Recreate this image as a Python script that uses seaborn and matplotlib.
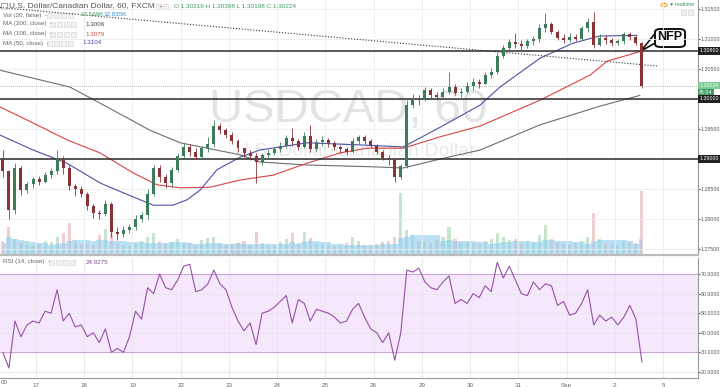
import matplotlib
matplotlib.use("Agg")
import matplotlib.pyplot as plt
import matplotlib.transforms as mtransforms
from matplotlib.patches import FancyBboxPatch, Polygon, Rectangle, Circle
import numpy as np
import pandas as pd
import seaborn as sns

# ---- data (USDCAD, resampled to 3h candles) ----
first_open = 1.2900
close = [1.2880, 1.2815, 1.2885, 1.2848, 1.2858, 1.2866, 1.2862, 1.2874, 1.2880, 1.2900,
         1.2885, 1.2855, 1.2850, 1.2842, 1.2822, 1.2810, 1.2808, 1.2825, 1.2778, 1.2775,
         1.2782, 1.2786, 1.2800, 1.2806, 1.2842, 1.2885, 1.2870, 1.2860, 1.2882, 1.2905,
         1.2920, 1.2912, 1.2903, 1.2918, 1.2925, 1.2955, 1.2948, 1.2940, 1.2930, 1.2918,
         1.2910, 1.2905, 1.2895, 1.2906, 1.2910, 1.2916, 1.2922, 1.2935, 1.2930, 1.2920,
         1.2938, 1.2916, 1.2928, 1.2932, 1.2926, 1.2920, 1.2916, 1.2912, 1.2930, 1.2936,
         1.2930, 1.2922, 1.2912, 1.2902, 1.2898, 1.2870, 1.2888, 1.2990, 1.3000, 1.2998,
         1.3015, 1.3006, 1.3004, 1.3012, 1.3020, 1.3010, 1.3012, 1.3022, 1.3028, 1.3025,
         1.3040, 1.3045, 1.3072, 1.3085, 1.3095, 1.3092, 1.3088, 1.3096, 1.3100, 1.3118,
         1.3125, 1.3112, 1.3102, 1.3098, 1.3104, 1.3100, 1.3118, 1.3128, 1.3090, 1.3102,
         1.3098, 1.3094, 1.3096, 1.3108, 1.3104, 1.3094, 1.3022]
high = [1.2915, 1.2882, 1.2893, 1.2888, 1.2862, 1.2870, 1.2872, 1.2878, 1.2885, 1.2915,
        1.2905, 1.2890, 1.2858, 1.2855, 1.2845, 1.2825, 1.2815, 1.2832, 1.2828, 1.2786,
        1.2788, 1.2792, 1.2806, 1.2812, 1.2850, 1.2890, 1.2890, 1.2875, 1.2887, 1.2910,
        1.2926, 1.2925, 1.2918, 1.2922, 1.2937, 1.2965, 1.2960, 1.2952, 1.2945, 1.2934,
        1.2918, 1.2915, 1.2910, 1.2910, 1.2916, 1.2920, 1.2928, 1.2940, 1.2952, 1.2934,
        1.2945, 1.2957, 1.2934, 1.2938, 1.2935, 1.2930, 1.2924, 1.2920, 1.2935, 1.2940,
        1.2940, 1.2934, 1.2925, 1.2915, 1.2906, 1.2902, 1.2892, 1.2998, 1.3008, 1.3006,
        1.3020, 1.3018, 1.3012, 1.3018, 1.3045, 1.3025, 1.3018, 1.3028, 1.3035, 1.3034,
        1.3045, 1.3052, 1.3078, 1.3090, 1.3100, 1.3110, 1.3098, 1.3100, 1.3105, 1.3125,
        1.3143, 1.3128, 1.3115, 1.3108, 1.3110, 1.3108, 1.3122, 1.3135, 1.3145, 1.3108,
        1.3106, 1.3102, 1.3100, 1.3112, 1.3112, 1.3106, 1.3095]
low = [1.2870, 1.2800, 1.2808, 1.2840, 1.2843, 1.2852, 1.2856, 1.2860, 1.2868, 1.2875,
       1.2875, 1.2848, 1.2838, 1.2836, 1.2815, 1.2802, 1.2800, 1.2805, 1.2770, 1.2765,
       1.2770, 1.2776, 1.2782, 1.2795, 1.2800, 1.2838, 1.2862, 1.2852, 1.2853, 1.2878,
       1.2900, 1.2905, 1.2900, 1.2900, 1.2912, 1.2920, 1.2942, 1.2935, 1.2925, 1.2912,
       1.2903, 1.2898, 1.2860, 1.2890, 1.2900, 1.2906, 1.2912, 1.2918, 1.2922, 1.2915,
       1.2918, 1.2912, 1.2912, 1.2922, 1.2920, 1.2915, 1.2910, 1.2906, 1.2910, 1.2925,
       1.2925, 1.2918, 1.2908, 1.2898, 1.2890, 1.2862, 1.2866, 1.2885, 1.2985, 1.2990,
       1.2996, 1.3002, 1.2998, 1.3000, 1.3008, 1.3006, 1.3004, 1.3010, 1.3015, 1.3018,
       1.3025, 1.3035, 1.3042, 1.3068, 1.3080, 1.3085, 1.3082, 1.3085, 1.3090, 1.3095,
       1.3112, 1.3108, 1.3098, 1.3093, 1.3095, 1.3096, 1.3098, 1.3112, 1.3085, 1.3088,
       1.3092, 1.3088, 1.3090, 1.3092, 1.3098, 1.3090, 1.3018]
volume_k = [14, 28, 16, 12, 10, 9, 11, 14, 13, 18,
            22, 32, 14, 11, 12, 10, 20, 26, 22, 12,
            10, 9, 11, 14, 18, 22, 14, 12, 13, 16,
            12, 12, 10, 15, 17, 18, 12, 10, 11, 12,
            14, 10, 23, 12, 10, 9, 13, 16, 22, 12,
            23, 17, 11, 10, 10, 9, 10, 12, 18, 14,
            10, 9, 11, 13, 14, 18, 62, 25, 20, 14,
            13, 12, 15, 18, 28, 16, 12, 13, 12, 11,
            14, 16, 22, 18, 15, 16, 12, 14, 13, 20,
            30, 16, 12, 11, 10, 12, 14, 18, 42, 16,
            12, 10, 10, 14, 13, 12, 64]
rsi = [30, 22, 46, 38, 44, 46, 45, 51, 50, 62,
       46, 50, 43, 44, 38, 40, 35, 42, 30, 32,
       30, 38, 51, 47, 63, 60, 70, 63, 62, 67,
       74, 75, 61, 62, 65, 72, 65, 62, 53, 46,
       41, 45, 34, 50, 51, 53, 56, 59, 45, 57,
       55, 46, 52, 51, 50, 48, 45, 46, 52, 55,
       48, 42, 40, 35, 40, 26, 40, 72, 71, 73,
       66, 63, 62, 66, 69, 55, 57, 55, 60, 58,
       64, 61, 76, 68, 74, 67, 60, 59, 66, 62,
       65, 64, 54, 56, 49, 50, 55, 62, 44, 49,
       46, 48, 44, 48, 54, 47, 25]

# moving averages (time in trading days from 16 Aug)
ma200_t = [0.25, 1.70, 2.33, 3.36, 3.99, 5.23, 5.64, 6.62, 7.99, 8.61, 9.38, 10.21, 11.45, 12.69, 13.52]
ma200_v = [1.3048, 1.3020, 1.2993, 1.2948, 1.2927, 1.2907, 1.2895, 1.2890, 1.2887, 1.2885,
           1.2900, 1.2915, 1.2957, 1.2988, 1.3006]
ma100_t = [0.25, 0.94, 1.64, 2.33, 3.01, 3.51, 3.99, 4.61, 5.23, 5.91, 6.62, 7.30, 7.86, 8.61,
           9.38, 10.21, 11.45, 12.49, 12.84, 13.52]
ma100_v = [1.2987, 1.2960, 1.2932, 1.2910, 1.2877, 1.2857, 1.2852, 1.2853, 1.2865, 1.2873,
           1.2893, 1.2910, 1.2918, 1.2918, 1.2937, 1.2955, 1.2998, 1.3040, 1.3063, 1.3079]
ma50_t = [0.25, 0.94, 1.64, 2.33, 2.53, 3.01, 3.43, 3.84, 4.13, 4.40, 4.75, 5.23, 5.64, 6.62,
          7.86, 8.61, 9.38, 10.21, 10.62, 11.45, 12.13, 12.69, 13.46]
ma50_v = [1.2940, 1.2915, 1.2893, 1.2860, 1.2853, 1.2837, 1.2823, 1.2823, 1.2832, 1.2848,
          1.2882, 1.2903, 1.2915, 1.2927, 1.2923, 1.2920, 1.2953, 1.2990, 1.3020, 1.3068,
          1.3093, 1.3105, 1.3106]

trend_t = [0.253, 13.875]
trend_v = [1.31525, 1.3055]
levels = [1.3080, 1.3000, 1.2900]
last_price = 1.30224

day_pos = list(range(1, 15))
day_labels = ["17", "18", "19", "22", "23", "24", "25", "26", "29", "30", "31", "Sep", "2", "5"]
price_ticks = [1.275, 1.280, 1.285, 1.290, 1.295, 1.300, 1.305, 1.310, 1.315]
rsi_ticks = [20, 30, 40, 50, 60, 70]

# ---- frame ----
opens = [first_open] + close[:-1]
df = pd.DataFrame({"t": [(k + 2.5) / 8 for k in range(len(close))],
                   "open": opens, "close": close, "high": high, "low": low,
                   "vol": volume_k, "rsi": rsi})
df["up"] = df["close"] >= df["open"]
df["volma"] = df["vol"].rolling(7, min_periods=1).mean()

sns.set_style("white")
plt.rcParams["font.family"] = ["Liberation Sans", "DejaVu Sans"]

W, H = 720, 387
fig = plt.figure(figsize=(7.2, 3.87), dpi=100)


def fx(x):
    return x / W


def fy(y):
    return 1 - y / H


ax = fig.add_axes([0, fy(255), fx(698), 255 / H])
ax_r = fig.add_axes([0, fy(378), fx(698), 120 / H])
axv = ax.twinx()
ax.set_zorder(axv.get_zorder() + 1)
ax.patch.set_visible(False)

xlim = (0.253, 14.725)
for a in (ax, ax_r, axv):
    a.set_xlim(*xlim)
ax.set_ylim(1.2740, 1.3165)
axv.set_ylim(0, 255)
ax_r.set_ylim(16.9, 78.2)

# volume
vcol = np.where(df["up"], "#c3e2c9", "#f0c8cc")
axv.bar(df["t"], df["vol"], width=0.065, color=vcol, alpha=0.9, linewidth=0)
axv.fill_between(df["t"], 0, df["volma"] * 0.85, color="#8fcdee", alpha=0.6, linewidth=0, step="mid")
axv.set_yticks([])
for s in axv.spines.values():
    s.set_visible(False)

# grid
ax.set_xticks(day_pos)
ax.set_xticklabels([])
ax.grid(True, color="#ececec", lw=0.6)
ax.tick_params(axis="x", length=0)

# candles
ccol = np.where(df["up"], "#3d7c5b", "#8a3336")
ax.vlines(df["t"], df["low"], df["high"], color=ccol, lw=0.6, zorder=3)
body = np.maximum((df["close"] - df["open"]).abs(), 0.00006)
ax.bar(df["t"], body, bottom=np.minimum(df["open"], df["close"]), width=0.062,
       color=ccol, linewidth=0, zorder=4)

# moving averages
sns.lineplot(x=ma200_t, y=ma200_v, ax=ax, color="#6e6e6e", lw=0.8, zorder=2)
sns.lineplot(x=ma100_t, y=ma100_v, ax=ax, color="#d64545", lw=0.8, zorder=2)
sns.lineplot(x=ma50_t, y=ma50_v, ax=ax, color="#5050a8", lw=0.8, zorder=2)

# drawings
for lv in levels:
    ax.axhline(lv, color="#2b2b2b", lw=1.1, zorder=2)
ax.plot(trend_t, trend_v, color="#333333", lw=0.8, ls=(0, (1, 1.6)), zorder=2)
ax.axhline(last_price, color="#9a9a9a", lw=0.6, ls=(0, (1, 1.5)), zorder=1)

# watermark
ax.text(348 / 698, 1 - 110 / 255, "USDCAD, 60", transform=ax.transAxes, ha="center", va="center",
        fontsize=34, color="#e3e3e3", zorder=0.5)
ax.text(355 / 698, 1 - 152 / 255, "U.S. Dollar/Canadian Dollar", transform=ax.transAxes,
        ha="center", va="center", fontsize=14, color="#e8e8e8", zorder=0.5)

# price axis (levels that carry a box get no plain label)
boxed = {1.300, 1.290}
ax.yaxis.tick_right()
ax.set_yticks(price_ticks)
ax.set_yticklabels(["" if round(v, 3) in boxed else f"{v:.5f}" for v in price_ticks])
ax.tick_params(axis="y", length=1.5, pad=0.6, labelsize=3.8, colors="#555555")
for side in ("top", "left"):
    ax.spines[side].set_visible(False)
ax.spines["right"].set_color("#999999")
ax.spines["right"].set_linewidth(0.8)
ax.spines["bottom"].set_color("#bbbbbb")
ax.spines["bottom"].set_linewidth(1.6)
ax.set_xlabel("")
ax.set_ylabel("")

bt = mtransforms.blended_transform_factory(ax.transAxes, ax.transData)
for val, txt, fc, tc in [(1.3080, "1.30800", "#222222", "white"),
                         (1.30224, "1.30224", "#7ccb95", "white"),
                         (1.3010, "45:04", "#3f9a62", "white"),
                         (1.3000, "1.30000", "#222222", "white"),
                         (1.2900, "1.29000", "#222222", "white")]:
    ax.text(1.002, val, txt, transform=bt, fontsize=3.8, color=tc, va="center", ha="left",
            bbox=dict(boxstyle="square,pad=0.2", fc=fc, ec="none"), zorder=10, clip_on=False)

# RSI pane
ax_r.axhspan(30, 70, color="#f5e8fc", zorder=0)
ax_r.axhline(70, color="#c9a9da", lw=0.8)
ax_r.axhline(30, color="#c9a9da", lw=0.8)
sns.lineplot(data=df, x="t", y="rsi", ax=ax_r, color="#9650a8", lw=0.8, zorder=3)
ax_r.set_xticks(day_pos)
ax_r.set_xticklabels(day_labels)
ax_r.grid(True, color="#e6e6e6", lw=0.6)
ax_r.yaxis.tick_right()
ax_r.set_yticks(rsi_ticks)
ax_r.set_yticklabels([f"{v:.4f}" for v in rsi_ticks])
ax_r.tick_params(axis="y", length=1.5, pad=0.6, labelsize=3.8, colors="#555555")
ax_r.tick_params(axis="x", length=2, pad=1.5, labelsize=4.5, colors="#666666")
ax_r.set_xlabel("")
ax_r.set_ylabel("")
for side in ("top", "left"):
    ax_r.spines[side].set_visible(False)
for side in ("right", "bottom"):
    ax_r.spines[side].set_color("#999999")
    ax_r.spines[side].set_linewidth(0.8)
fig.text(fx(1), fy(383), "00", fontsize=4.5, color="#666666", va="center", ha="left")

# legend header


def boxes(x0, y, n):
    for i in range(n):
        fig.add_artist(Rectangle((fx(x0 + i * 7), fy(y + 2.5)), 5 / W, 5 / H,
                                 transform=fig.transFigure, fc="#f2f2f2", ec="#cfcfcf", lw=0.4))


fig.add_artist(Rectangle((fx(1), fy(9)), 6 / W, 6 / H, transform=fig.transFigure,
                         fc="none", ec="#777777", lw=0.5))
fig.text(fx(9), fy(6), "U.S. Dollar/Canadian Dollar, 60, FXCM  -", fontsize=6, color="#555555", va="center")
boxes(156, 6, 2)
fig.text(fx(174), fy(6), "O 1.30219 H 1.30398 L 1.30198 C 1.30224", fontsize=4.6, color="#3d9a60", va="center")
rows = [(15, "Vol (20, false)  -", 47, 4), (24, "MA (200, close)  -", 50, 4),
        (34, "MA (100, close)  -", 50, 4), (43, "MA (50, close)  -", 47, 4)]
for y, lab, bx, n in rows:
    fig.text(fx(3), fy(y), lab, fontsize=4.5, color="#666666", va="center")
    boxes(bx, y, n)
fig.text(fx(80), fy(15), "17.569K", fontsize=4.5, color="#3d9a60", va="center")
fig.text(fx(103), fy(15), "12.835K", fontsize=4.5, color="#2f8fd0", va="center")
fig.text(fx(85), fy(24), "1.3006", fontsize=4.5, color="#444444", va="center")
fig.text(fx(85), fy(34), "1.3079", fontsize=4.5, color="#d64545", va="center")
fig.text(fx(82), fy(43), "1.3104", fontsize=4.5, color="#4a4aa8", va="center")
fig.text(fx(3), fy(262), "RSI (14, close)  -", fontsize=4.5, color="#666666", va="center")
boxes(49, 262, 4)
fig.text(fx(86), fy(262), "24.9275", fontsize=4.5, color="#7a4f8a", va="center")

# realtime badge
fig.add_artist(Circle((fx(664), fy(5)), 3.2 / W, transform=fig.transFigure, fc="white", ec="#f0a030", lw=0.7))
fig.text(fx(664), fy(5), "!", fontsize=3.5, color="#f0a030", ha="center", va="center")
fig.text(fx(670), fy(5), "\u25cf realtime", fontsize=4.0, color="#3d9a60", va="center")
boxes(681, 12, 2)

# NFP callout
fig.add_artist(Polygon([(fx(657), fy(31)), (fx(641), fy(51)), (fx(657), fy(42))],
                       closed=True, transform=fig.transFigure, fc="white", ec="#111111", lw=1.2))
fig.add_artist(FancyBboxPatch((fx(655), fy(47)), 30 / W, 18 / H,
                              boxstyle="round,pad=0,rounding_size=0.008",
                              transform=fig.transFigure, fc="white", ec="#111111", lw=1.4))
fig.text(fx(670), fy(37.5), "NFP", fontsize=9, fontweight="bold", color="#111111", ha="center", va="center")

fig.savefig("out.png", dpi=100)
